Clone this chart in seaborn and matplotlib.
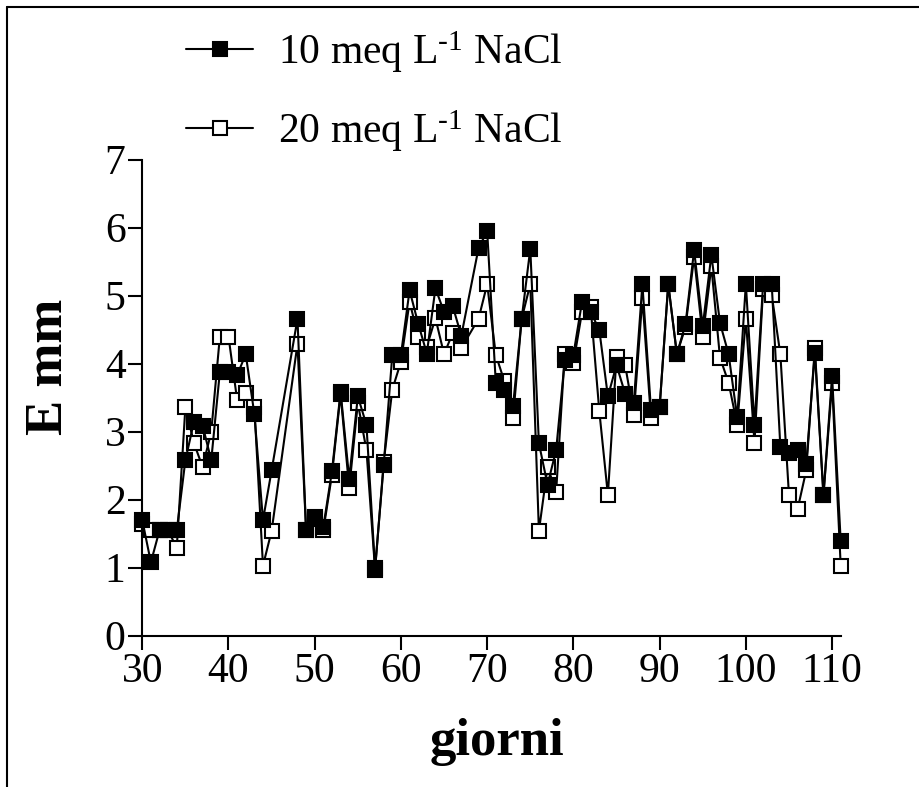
import numpy as np
import pandas as pd
import seaborn as sns
from matplotlib import pyplot as plt
from matplotlib.lines import Line2D

# ===== DATA ==========================================
days = [30, 31, 32, 33, 34, 35, 36, 37, 38, 39, 40, 41, 42, 43, 44, 45,
        48, 49, 50, 51, 52, 53, 54, 55, 56, 57, 58, 59, 60, 61, 62, 63, 64, 65, 66, 67,
        69, 70, 71, 72, 73, 74, 75, 76, 77, 78, 79, 80, 81, 82, 83, 84, 85, 86, 87, 88,
        89, 90, 91, 92, 93, 94, 95, 96, 97, 98, 99, 100, 101, 102, 103, 104, 105, 106,
        107, 108, 109, 110, 111]

e_10 = [1.70, 1.08, 1.55, 1.55, 1.55, 2.58, 3.15, 3.09, 2.58, 3.88, 3.88, 3.83, 4.14, 3.26, 1.70, 2.43,
        4.66, 1.55, 1.75, 1.60, 2.42, 3.59, 2.31, 3.52, 3.10, 0.99, 2.51, 4.13, 4.13, 5.08, 4.59, 4.15,
        5.11, 4.76, 4.85, 4.41,
        5.70, 5.95, 3.72, 3.61, 3.38, 4.66, 5.69, 2.83, 2.22, 2.73, 4.05, 4.13, 4.91, 4.76, 4.50, 3.52,
        3.98, 3.56, 3.42, 5.17, 3.32, 3.36, 5.17, 4.14, 4.58, 5.67, 4.55, 5.60, 4.60, 4.14, 3.21, 5.17,
        3.10, 5.17, 5.17, 2.78, 2.68, 2.73, 2.52, 4.16, 2.07, 3.82, 1.39]

e_20 = [1.65, 1.55, 1.55, 1.55, 1.29, 3.36, 2.83, 2.48, 3.00, 4.40, 4.40, 3.47, 3.57, 3.36, 1.03, 1.54,
        4.29, 1.55, 1.72, 1.55, 2.37, 3.55, 2.17, 3.42, 2.73, 0.97, 2.55, 3.62, 4.03, 4.91, 4.40, 4.25,
        4.67, 4.14, 4.45, 4.23,
        4.66, 5.17, 4.13, 3.74, 3.20, 4.66, 5.17, 1.54, 2.48, 2.12, 4.15, 4.01, 4.76, 4.83, 3.31, 2.07,
        4.10, 3.98, 3.25, 4.96, 3.20, 3.36, 5.17, 4.14, 4.54, 5.57, 4.39, 5.43, 4.09, 3.72, 3.10, 4.66,
        2.84, 5.10, 5.01, 4.14, 2.07, 1.86, 2.43, 4.23, 2.07, 3.71, 1.03]

label_10 = r"10 meq L$^{\text{-}1}$ NaCl"
label_20 = r"20 meq L$^{\text{-}1}$ NaCl"
x_ticks = [30, 40, 50, 60, 70, 80, 90, 100, 110]
y_ticks = [0, 1, 2, 3, 4, 5, 6, 7]

# ===== STYLE =========================================
sns.set_style("ticks")
plt.rcParams["font.family"] = ["Liberation Serif", "DejaVu Serif"]
plt.rcParams["mathtext.fontset"] = "custom"
plt.rcParams["mathtext.rm"] = "Liberation Serif"
plt.rcParams["mathtext.it"] = "Liberation Serif:italic"
for key in ["text.color", "axes.labelcolor", "xtick.color", "ytick.color"]:
    plt.rcParams[key] = "black"

df = pd.DataFrame({"giorni": days, "e10": e_10, "e20": e_20})

fig = plt.figure(figsize=(9.19, 7.87), dpi=100)
ax = fig.add_axes([0.1548, 0.1922, 0.7600, 0.6049])

# open squares first, filled squares on top
sns.lineplot(data=df, x="giorni", y="e20", ax=ax, color="black", linewidth=1.5,
             marker="s", markersize=10, markerfacecolor="white",
             markeredgecolor="black", markeredgewidth=1.5, label=label_20, clip_on=False)
sns.lineplot(data=df, x="giorni", y="e10", ax=ax, color="black", linewidth=1.5,
             marker="s", markersize=10, markerfacecolor="black",
             markeredgecolor="black", markeredgewidth=1.5, label=label_10, clip_on=False)

ax.set_xlim(30, 111)
ax.set_ylim(0, 7)
ax.set_xticks(x_ticks)
ax.set_yticks(y_ticks)
ax.tick_params(axis="both", labelsize=30, length=10, width=1.5, pad=2, color="black")
sns.despine(ax=ax)
for side in ["left", "bottom"]:
    ax.spines[side].set_linewidth(1.5)
    ax.spines[side].set_color("black")

ax.set_xlabel("giorni", fontsize=38, fontweight="bold")
ax.set_ylabel("E mm", fontsize=38, fontweight="bold")
ax.xaxis.set_label_coords(0.508, -0.172)
ax.yaxis.set_label_coords(-0.099, 0.565)

# legend at the top, filled series first
ax.get_legend().remove()
leg_handles = [Line2D([], [], color="black", linewidth=1.5, marker="s", markersize=10,
                      markerfacecolor=fc, markeredgecolor="black", markeredgewidth=1.5)
               for fc in ["black", "white"]]
fig.legend(leg_handles, [label_10, label_20], loc="upper left",
           bbox_to_anchor=(0.18, 0.99), frameon=False, fontsize=30,
           handlelength=1.6, handletextpad=0.6, labelspacing=0.8, borderpad=0)

# frame lines along top and left of the picture
fig.add_artist(Line2D([7 / 919, 7 / 919], [0, 1 - 7 / 787], color="black", linewidth=1.5))
fig.add_artist(Line2D([7 / 919, 1], [1 - 7 / 787, 1 - 7 / 787], color="black", linewidth=1.5))

fig.savefig("out.png", dpi=100)
